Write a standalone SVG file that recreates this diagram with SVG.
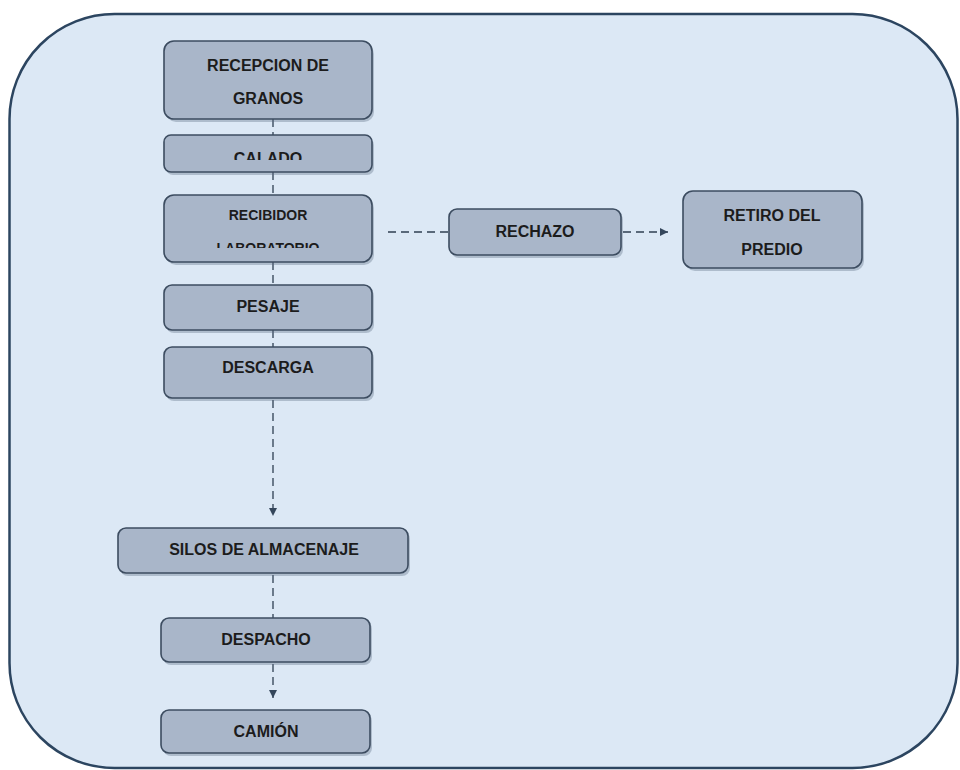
<svg xmlns="http://www.w3.org/2000/svg" width="960" height="770" viewBox="0 0 960 770">
<defs>
<style>
.box{fill:#a9b6c9;stroke:#3c4c60;stroke-width:1.6}
.sh{fill:#5a6a80;opacity:0.35}
.t{font-family:"Liberation Sans",Arial,sans-serif;font-weight:bold;font-size:16px;fill:#1c1c1c;text-anchor:middle}
.ts{font-size:14px}
.c{fill:none;stroke:#2f3f52;stroke-width:1.3;stroke-dasharray:8 5}
</style>
<marker id="ah" viewBox="0 0 10 10" refX="10" refY="5" markerWidth="8" markerHeight="8" markerUnits="userSpaceOnUse" orient="auto">
<path d="M0,0 L10,5 L0,10 z" fill="#34465b"/>
</marker>
<clipPath id="clipCal"><rect x="164" y="135" width="208" height="25"/></clipPath>
<clipPath id="clipLab"><rect x="164" y="195" width="208" height="53"/></clipPath>
</defs>
<rect x="0" y="0" width="960" height="770" fill="#ffffff"/>
<rect id="container" x="9.5" y="14" width="948" height="754" rx="105" ry="105" fill="#dce8f5" stroke="#2c4560" stroke-width="2.5"/>

<g id="connectors">
<line class="c" x1="273" y1="119" x2="273" y2="135"/>
<line class="c" x1="273" y1="172" x2="273" y2="195"/>
<line class="c" x1="273" y1="262" x2="273" y2="285"/>
<line class="c" x1="273" y1="330" x2="273" y2="347"/>
<line class="c" x1="273" y1="400" x2="273" y2="516" marker-end="url(#ah)"/>
<line class="c" x1="273" y1="575" x2="273" y2="618"/>
<line class="c" x1="273" y1="664" x2="273" y2="698" marker-end="url(#ah)"/>
<line class="c" x1="388" y1="232" x2="449" y2="232"/>
<line class="c" x1="623" y1="232" x2="668" y2="232" marker-end="url(#ah)"/>
</g>

<g id="recepcion">
<rect class="sh" x="166" y="44" width="208" height="78" rx="10"/>
<rect class="box" x="164" y="41" width="208" height="78" rx="10"/>
<text class="t" x="268" y="71">RECEPCION DE</text>
<text class="t" x="268" y="104">GRANOS</text>
</g>
<g id="calado">
<rect class="sh" x="166" y="138" width="208" height="37" rx="7"/>
<rect class="box" x="164" y="135" width="208" height="37" rx="7"/>
<text class="t" x="268" y="164" clip-path="url(#clipCal)">CALADO</text>
</g>
<g id="recibidor">
<rect class="sh" x="166" y="198" width="208" height="67" rx="10"/>
<rect class="box" x="164" y="195" width="208" height="67" rx="10"/>
<text class="t ts" x="268" y="220">RECIBIDOR</text>
<text class="t ts" x="268" y="253" clip-path="url(#clipLab)">LABORATORIO</text>
</g>
<g id="pesaje">
<rect class="sh" x="166" y="288" width="208" height="45" rx="8"/>
<rect class="box" x="164" y="285" width="208" height="45" rx="8"/>
<text class="t" x="268" y="312">PESAJE</text>
</g>
<g id="descarga">
<rect class="sh" x="166" y="350" width="208" height="51" rx="8"/>
<rect class="box" x="164" y="347" width="208" height="51" rx="8"/>
<text class="t" x="268" y="373">DESCARGA</text>
</g>
<g id="silos">
<rect class="sh" x="120" y="531" width="290" height="45" rx="8"/>
<rect class="box" x="118" y="528" width="290" height="45" rx="8"/>
<text class="t" x="264" y="555">SILOS DE ALMACENAJE</text>
</g>
<g id="despacho">
<rect class="sh" x="163" y="621" width="209" height="44" rx="8"/>
<rect class="box" x="161" y="618" width="209" height="44" rx="8"/>
<text class="t" x="266" y="645">DESPACHO</text>
</g>
<g id="camion">
<rect class="sh" x="163" y="713" width="209" height="43" rx="8"/>
<rect class="box" x="161" y="710" width="209" height="43" rx="8"/>
<text class="t" x="266" y="737">CAMIÓN</text>
</g>
<g id="rechazo">
<rect class="sh" x="451" y="212" width="172" height="46" rx="8"/>
<rect class="box" x="449" y="209" width="172" height="46" rx="8"/>
<text class="t" x="535" y="237">RECHAZO</text>
</g>
<g id="retiro">
<rect class="sh" x="685" y="194" width="179" height="77" rx="10"/>
<rect class="box" x="683" y="191" width="179" height="77" rx="10"/>
<text class="t" x="772" y="221">RETIRO DEL</text>
<text class="t" x="772" y="255">PREDIO</text>
</g>
</svg>
